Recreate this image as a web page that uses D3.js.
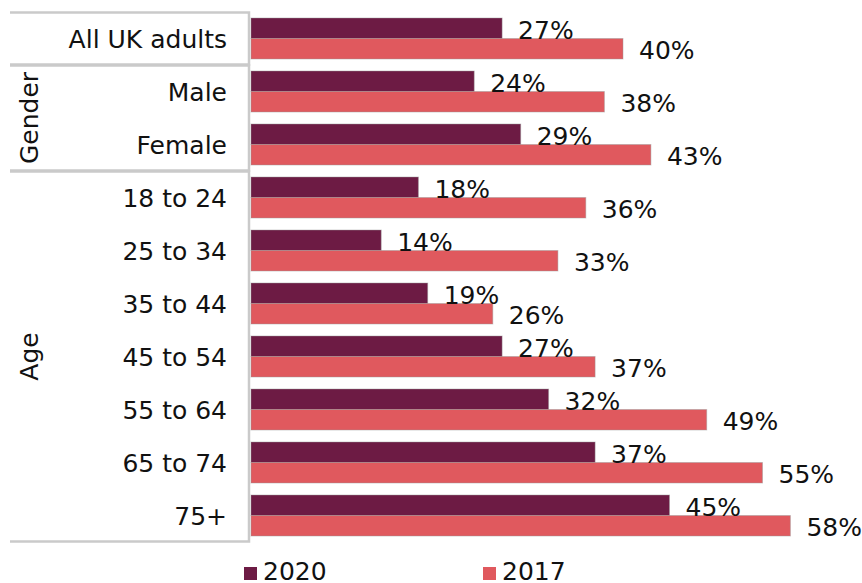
<!DOCTYPE html>
<html>
<head>
<meta charset="utf-8">
<script src="https://cdn.jsdelivr.net/npm/d3@7"></script>
<style>
  html, body { margin: 0; padding: 0; background: #ffffff; }
  svg text { font-family: "DejaVu Sans", Verdana, sans-serif; fill: #111111; }
</style>
</head>
<body>
<svg id="chart" width="862" height="583"></svg>
<script>
// Categories, top to bottom
const categories = ["All UK adults", "Male", "Female", "18 to 24", "25 to 34",
  "35 to 44", "45 to 54", "55 to 64", "65 to 74", "75+"];
// Group boxes on the left: label and the span of categories they cover
const groupNames = ["", "Gender", "Age"];
const groupStart = [0, 1, 3];
const groupEnd = [0, 2, 9];
// Series values (%)
const values2020 = [27, 24, 29, 18, 14, 19, 27, 32, 37, 45];
const values2017 = [40, 38, 43, 36, 33, 26, 37, 49, 55, 58];
const seriesNames = ["2020", "2017"];
const seriesColors = ["#6d1b44", "#e0595e"];

const fontSize = 25;
const svg = d3.select("#chart");

const x = d3.scaleLinear().domain([0, 60]).range([251, 251 + 60 * 9.3]);
const y = d3.scaleBand().domain(categories).range([12, 542]).paddingInner(12 / 53).paddingOuter(6 / 53);
const sub = d3.scaleBand().domain(seriesNames).range([0, y.bandwidth()]);

// Label panel boxes
const boxes = svg.append("g");
groupNames.forEach((name, i) => {
  const top = y(categories[groupStart[i]]) - y.step() * y.paddingInner() / 2;
  const bottom = y(categories[groupEnd[i]]) + y.bandwidth() + y.step() * y.paddingInner() / 2;
  const t = top + 0.5, b = bottom - 0.5;
  boxes.append("path")
    .attr("d", `M10,${t}H249V${b}H10`)
    .attr("fill", "none")
    .attr("stroke", "#cacaca")
    .attr("stroke-width", 2.5);
  if (name) {
    boxes.append("text")
      .attr("transform", `translate(29,${(top + bottom) / 2}) rotate(-90)`)
      .attr("text-anchor", "middle")
      .attr("dy", "0.36em")
      .attr("font-size", fontSize)
      .text(name);
  }
});

// Category labels
svg.append("g").selectAll("text")
  .data(categories)
  .join("text")
  .attr("x", 227)
  .attr("y", d => y(d) + y.bandwidth() / 2)
  .attr("dy", "0.36em")
  .attr("text-anchor", "end")
  .attr("font-size", fontSize)
  .text(d => d);

// Bars
const rows = categories.map((c, i) => ({ cat: c, vals: [values2020[i], values2017[i]] }));
const rowG = svg.append("g").selectAll("g")
  .data(rows)
  .join("g")
  .attr("transform", d => `translate(0,${y(d.cat)})`);

rowG.selectAll("rect")
  .data(d => d.vals.map((v, k) => ({ v, s: seriesNames[k], k })))
  .join("rect")
  .attr("x", x(0))
  .attr("y", d => sub(d.s))
  .attr("width", d => x(d.v) - x(0))
  .attr("height", sub.bandwidth())
  .attr("fill", d => seriesColors[d.k])
  .attr("stroke", "#9a9a9a")
  .attr("stroke-opacity", 0.45)
  .attr("stroke-width", 1);

rowG.selectAll("text")
  .data(d => d.vals.map((v, k) => ({ v, s: seriesNames[k], k })))
  .join("text")
  .attr("x", d => x(d.v) + 16)
  .attr("y", d => sub(d.s) + sub.bandwidth())
  .attr("font-size", fontSize)
  .text(d => d.v + "%");

// Legend
const legendX = [244, 483];
const legend = svg.append("g").selectAll("g")
  .data(seriesNames)
  .join("g")
  .attr("transform", (d, i) => `translate(${legendX[i]},567)`);
legend.append("rect")
  .attr("width", 13).attr("height", 13)
  .attr("fill", (d, i) => seriesColors[i]);
legend.append("text")
  .attr("x", 19).attr("y", 13)
  .attr("font-size", fontSize)
  .text(d => d);
</script>
</body>
</html>
